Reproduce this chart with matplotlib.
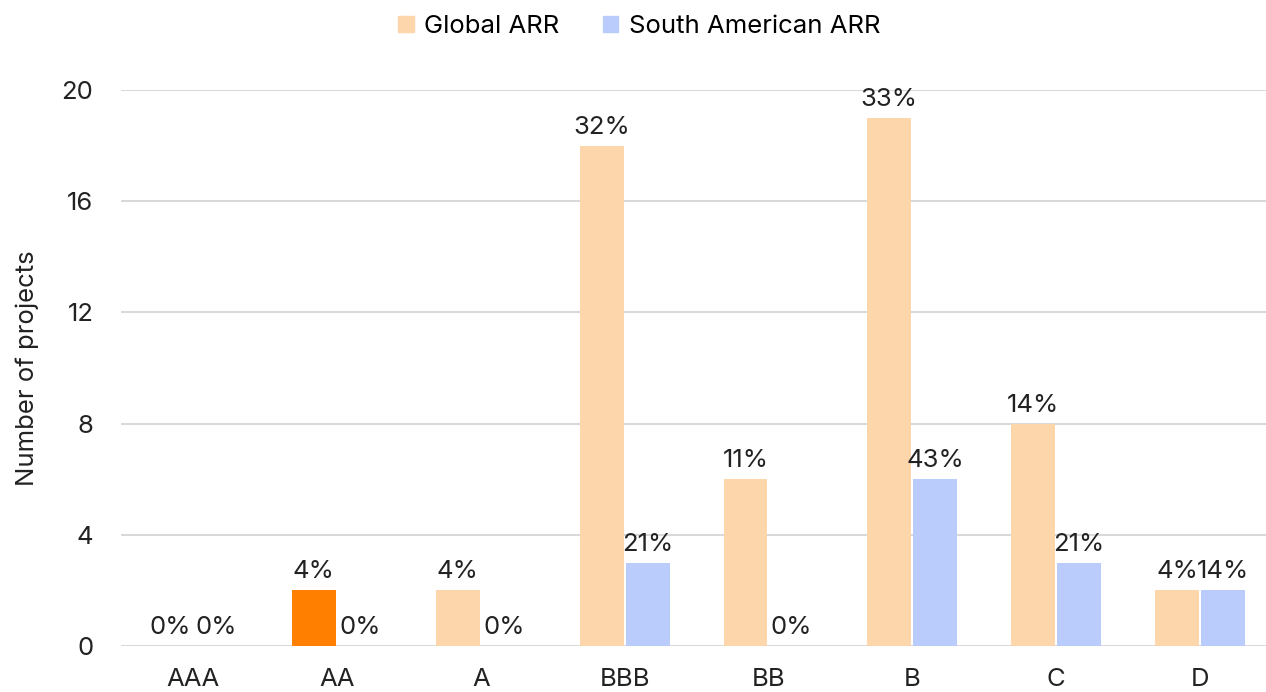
import numpy as np
import matplotlib.pyplot as plt

plt.rcParams['font.family'] = ['Inter', 'DejaVu Sans']

categories = ['AAA', 'AA', 'A', 'BBB', 'BB', 'B', 'C', 'D']
global_arr = [0, 2, 2, 18, 6, 19, 8, 2]
south_arr = [0, 0, 0, 3, 0, 6, 3, 2]
global_pct = ['0%', '4%', '4%', '32%', '11%', '33%', '14%', '4%']
south_pct = ['0%', '0%', '0%', '21%', '0%', '43%', '21%', '14%']
highlight = 'AA'

c_global = '#FDD6AB'
c_south = '#B9CCFB'
c_high = '#FF8000'
txt = '#222222'
fs = 18.5

fig = plt.figure(figsize=(12.66, 6.92), dpi=100)
ax = fig.add_axes([0.0957, 0.0665, 0.909, 0.8035])

x = np.arange(len(categories))
w = 0.305
off = 0.16
gcolors = [c_high if c == highlight else c_global for c in categories]
gb = ax.bar(x - off, global_arr, w, color=gcolors, label='Global ARR', zorder=3)
sb = ax.bar(x + off, south_arr, w, color=c_south, label='South American ARR', zorder=3)

for bars, labels in ((gb, global_pct), (sb, south_pct)):
    for b, lab in zip(bars, labels):
        ax.annotate(lab, (b.get_x() + b.get_width() / 2, b.get_height()),
                    xytext=(0, 5), textcoords='offset points',
                    ha='center', va='bottom', fontsize=fs, color=txt,
                    annotation_clip=False)

ax.set_xlim(-0.5, 7.5)
ax.set_ylim(0, 20)
ax.set_yticks([0, 4, 8, 12, 16, 20])
ax.set_xticks(x)
ax.set_xticklabels(categories)
ax.tick_params(axis='both', length=0, labelsize=fs, colors=txt)
ax.tick_params(axis='x', pad=16)
ax.tick_params(axis='y', pad=20)
ax.grid(axis='y', color='#D9D9D9', linewidth=1.5, zorder=0)
ax.set_axisbelow(True)
for s in ax.spines.values():
    s.set_visible(False)
ax.set_ylabel('Number of projects', fontsize=fs, color=txt, labelpad=16)

h1 = plt.Rectangle((0, 0), 1, 1, color=c_global)
h2 = plt.Rectangle((0, 0), 1, 1, color=c_south)
fig.legend([h1, h2], ['Global ARR', 'South American ARR'], loc='center',
           bbox_to_anchor=(0.505, 0.962), ncol=2, frameon=False, fontsize=fs,
           handlelength=0.6, handleheight=0.6, handletextpad=0.4, columnspacing=1.7)

fig.savefig('out.png', dpi=100)
